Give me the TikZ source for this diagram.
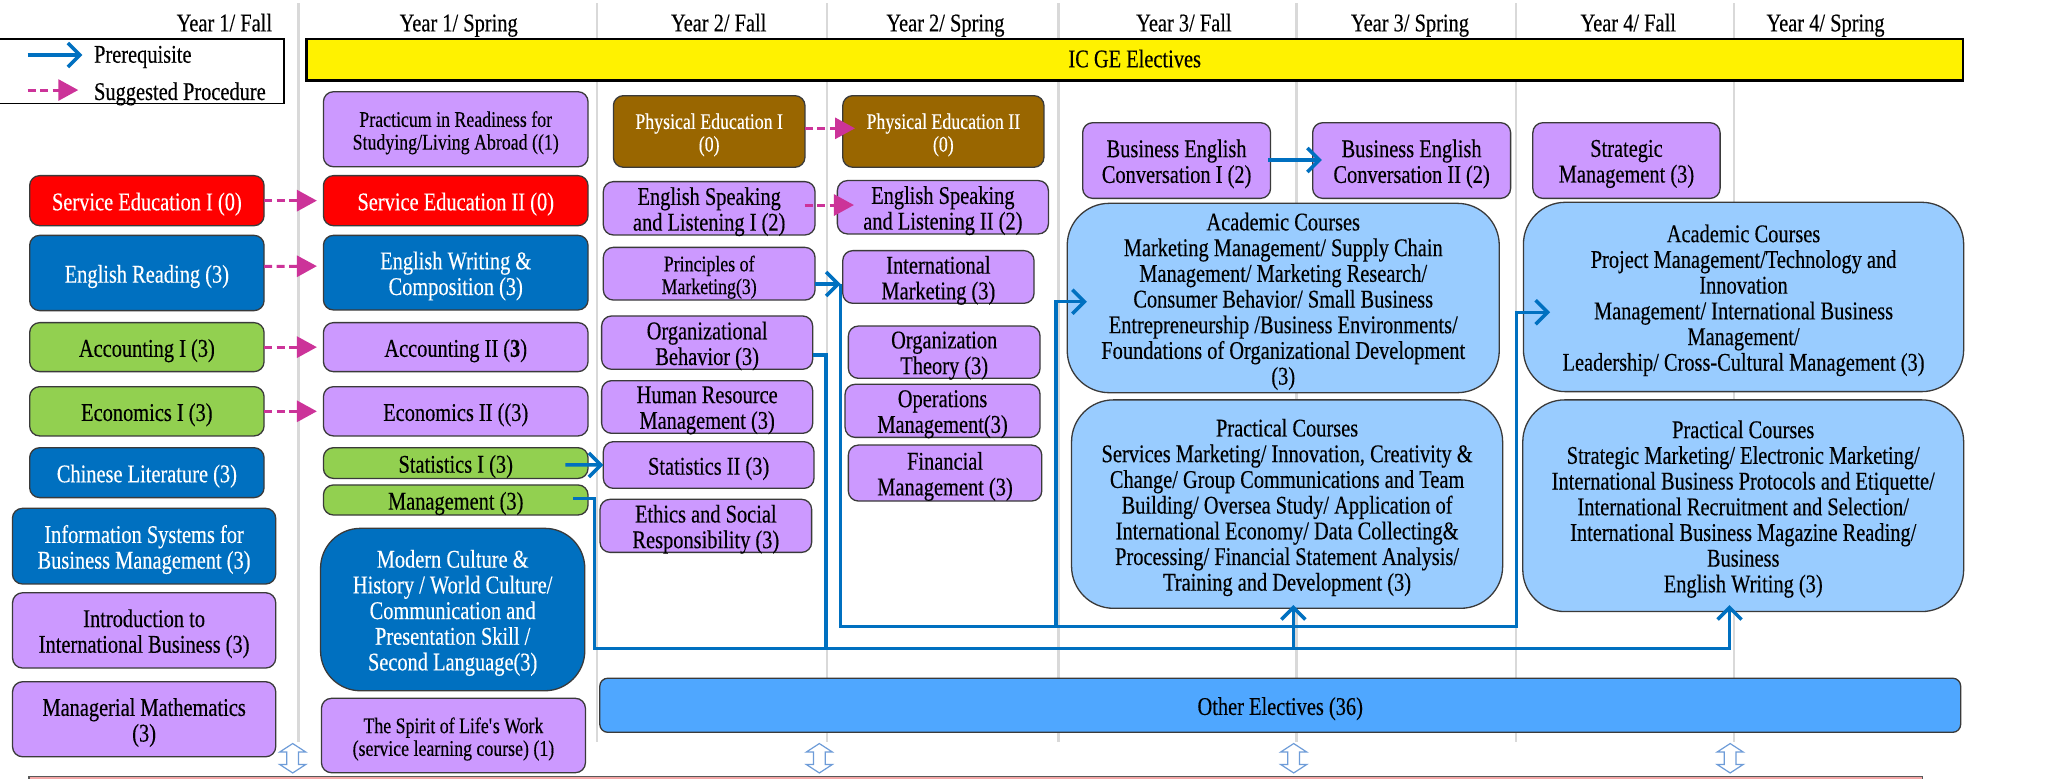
\documentclass[tikz,border=0pt]{standalone}
\usepackage{fontspec}
\setmainfont{Liberation Serif}[FakeStretch=0.8,FakeBold=0.3]
\usetikzlibrary{arrows.meta,calc}
\definecolor{cred}{HTML}{FF0000}
\definecolor{cblue}{HTML}{0070C0}
\definecolor{cgreen}{HTML}{92D050}
\definecolor{cpurple}{HTML}{CC99FF}
\definecolor{cbrown}{HTML}{996600}
\definecolor{clight}{HTML}{99CCFF}
\definecolor{cother}{HTML}{4FA7FF}
\definecolor{cline}{HTML}{0070C0}
\definecolor{cmag}{HTML}{CC3399}
\definecolor{cgrid}{HTML}{D9D9D9}
\definecolor{cdbl}{HTML}{6E9CD8}
\definecolor{cborder}{HTML}{3A3A3A}
\definecolor{cbotfill}{HTML}{F4A6A6}
\newcommand{\mkbox}[7]{%
  \pgfmathsetmacro{\mkw}{(#4-#2)*1.3068}%
  \pgfmathsetmacro{\mkh}{(#5-#3)*1.3068}%
  \pgfmathsetmacro{\mkx}{(#2+#4)/2}%
  \pgfmathsetmacro{\mky}{(#3+#5)/2}%
  \node[#6, minimum width=\mkw pt, minimum height=\mkh pt] (#1) at (\mkx,\mky) {};%
  \node[#6, draw=none, fill=none, yshift=-4.5pt] (#1-t) at (\mkx,\mky) {#7};%
}
\begin{document}
\begin{tikzpicture}[x=1.3068pt,y=-1.3068pt,
  every node/.style={inner sep=0pt, outer sep=0pt},
  course/.style={draw=cborder, line width=1.3pt, rounded corners=10pt, align=center,
    font=\fontsize{25.5}{25.7}\selectfont, execute at begin node=\strut, execute at end node=\strut},
  smalltext/.style={font=\fontsize{22.3}{22.7}\selectfont},
  bigbox/.style={course, rounded corners=42pt, fill=clight},
  pur/.style={course, fill=cpurple},
  grn/.style={course, fill=cgreen},
  blu/.style={course, fill=cblue, text=white},
  rd/.style={course, fill=cred, text=white},
  brn/.style={course, fill=cbrown, text=white},
  colline/.style={draw=cgrid, line width=2.6pt},
  prq/.style={draw=cline, line width=3.5pt, -{Straight Barb[length=12pt,width=24pt]}},
  prqline/.style={draw=cline, line width=3.5pt},
  sgp/.style={draw=cmag, line width=3pt, dash pattern=on 8pt off 4.5pt, -{Triangle[length=20pt,width=21pt]}},
  dblarr/.style={draw=cdbl, fill=white, line width=1.2pt},
  yr/.style={font=\fontsize{25.5}{26}\selectfont}
]
\useasboundingbox (0,0) rectangle (1568,595.4);
\fill[white] (0,0) rectangle (1568,595.4);

% column lines
\foreach \gx in {228.5,457,633,810,992,1160,1327}
  \draw[colline] (\gx,2.5) -- (\gx,568);

% headers
\node[yr, anchor=base] (h1) at (171.7,24) {Year 1/ Fall};
\node[yr, anchor=base] (h2) at (351,24) {Year 1/ Spring};
\node[yr, anchor=base] (h3) at (550,24) {Year 2/ Fall};
\node[yr, anchor=base] (h4) at (723.5,24) {Year 2/ Spring};
\node[yr, anchor=base] (h5) at (906,24) {Year 3/ Fall};
\node[yr, anchor=base] (h6) at (1079,24) {Year 3/ Spring};
\node[yr, anchor=base] (h7) at (1246,24) {Year 4/ Fall};
\node[yr, anchor=base] (h8) at (1397,24) {Year 4/ Spring};

% legend
\node[draw=black, line width=1.2pt, minimum width=285.2pt, minimum height=64.4pt] (legend) at (108.15,54.45) {};
\node[yr, anchor=base west] (lt1) at (72,48) {Prerequisite};
\node[yr, anchor=base west] (lt2) at (72,76.5) {Suggested Procedure};
\coordinate (lp1) at (21.2,42.1); \coordinate (lp2) at (63,42.1);
\coordinate (ls1) at (21.2,68.9); \coordinate (ls2) at (59.9,68.9);

% IC GE bar
\node[draw=black, line width=2.5pt, fill=yellow, minimum width=1656.6pt, minimum height=41.2pt] (icge) at (868.35,45.75) {};
\node[yr, anchor=base] (icget) at (868.35,51.5) {IC GE Electives};

% column 1
\mkbox{se1}{22.7}{134.4}{202.1}{172.7}{rd}{Service Education I (0)}
\mkbox{er}{22.7}{180.1}{202.1}{237.7}{blu}{English Reading (3)}
\mkbox{ac1}{22.7}{246.9}{202.1}{284.4}{grn}{Accounting I (3)}
\mkbox{ec1}{22.7}{295.9}{202.1}{333.6}{grn}{Economics I (3)}
\mkbox{cl}{22.7}{342.6}{202.1}{380.8}{blu}{Chinese Literature (3)}
\mkbox{is}{9.5}{389}{211}{446.9}{blu}{Information Systems for\\Business Management (3)}
\mkbox{iib}{9.6}{453.6}{211}{511.2}{pur}{Introduction to\\International Business (3)}
\mkbox{mm}{9.6}{521.7}{211}{579.1}{pur}{Managerial Mathematics\\(3)}

% column 2
\mkbox{prac}{247.5}{70.2}{450}{127.6}{pur, smalltext}{Practicum in Readiness for\\Studying/Living Abroad ((1)}
\mkbox{se2}{247.5}{134.4}{450}{172.7}{rd}{Service Education II (0)}
\mkbox{ew}{247.5}{180.1}{450}{237.2}{blu}{English Writing \&\\Composition (3)}
\mkbox{ac2}{247.5}{246.9}{450}{284.4}{pur}{Accounting II (\textbf{3})}
\mkbox{ec2}{247.5}{295.9}{450}{333.6}{pur}{Economics II ((3)}
\mkbox{st1}{247.5}{342.6}{450}{366.1}{grn}{Statistics I (3)}
\mkbox{mg}{247.5}{371.1}{450}{394.1}{grn}{Management (3)}
\mkbox{mc}{245.3}{404.3}{447.5}{528.6}{blu, rounded corners=40pt}{Modern Culture \&\\History / World Culture/\\Communication and\\Presentation Skill /\\Second Language(3)}
\mkbox{sp}{246}{534.4}{448}{591.3}{pur, smalltext}{The Spirit of Life\textquotesingle s Work\\(service learning course) (1)}

% column 3
\mkbox{pe1}{469.4}{73.2}{616}{128}{brn, smalltext}{Physical Education I\\(0)}
\mkbox{es1}{461.7}{139}{623.7}{179.8}{pur}{English Speaking\\and Listening I (2)}
\mkbox{pom}{461.7}{189.3}{623.7}{229.6}{pur, smalltext}{Principles of\\Marketing(3)}
\mkbox{ob}{460.4}{241.8}{621.9}{282.6}{pur}{Organizational\\Behavior (3)}
\mkbox{hrm}{460.4}{291.3}{621.9}{331.6}{pur}{Human Resource\\Management (3)}
\mkbox{st2}{461.7}{338}{622.9}{373.7}{pur}{Statistics II (3)}
\mkbox{eth}{459.2}{382.1}{621.1}{422.7}{pur}{Ethics and Social\\Responsibility (3)}

% column 4
\mkbox{pe2}{644.9}{73.2}{798.9}{128}{brn, smalltext}{Physical Education II\\(0)}
\mkbox{es2}{640.8}{138.2}{802.3}{179}{pur}{English Speaking\\and Listening II (2)}
\mkbox{im}{644.9}{191.8}{791.3}{232.1}{pur}{International\\Marketing (3)}
\mkbox{ot}{649.2}{249.5}{795.9}{289.5}{pur}{Organization\\Theory (3)}
\mkbox{om}{646.7}{294.1}{795.9}{334.7}{pur}{Operations\\Management(3)}
\mkbox{fm}{649.2}{340.6}{797.2}{383.4}{pur}{Financial\\Management (3)}

% year 3
\mkbox{bec1}{828.5}{93.9}{972.3}{151.8}{pur}{Business English\\Conversation I (2)}
\mkbox{bec2}{1004.5}{93.9}{1156}{151.8}{pur}{Business English\\Conversation II (2)}
\mkbox{y3a}{816.7}{155.6}{1147.3}{300.5}{bigbox}{Academic Courses\\Marketing Management/ Supply Chain\\Management/ Marketing Research/\\Consumer Behavior/ Small Business\\Entrepreneurship /Business Environments/\\Foundations of Organizational Development\\(3)}
\mkbox{y3p}{820}{306}{1149.9}{465.5}{bigbox}{Practical Courses\\Services Marketing/ Innovation, Creativity \&\\Change/ Group Communications and Team\\Building/ Oversea Study/ Application of\\International Economy/ Data Collecting\&\\Processing/ Financial Statement Analysis/\\Training and Development (3)}

% year 4
\mkbox{sm}{1173}{93.9}{1316.3}{151.8}{pur}{Strategic\\Management (3)}
\mkbox{y4a}{1165.8}{154.8}{1502.7}{299.7}{bigbox}{Academic Courses\\Project Management/Technology and\\Innovation\\Management/ International Business\\Management/\\Leadership/ Cross-Cultural Management (3)}
\mkbox{y4p}{1165.3}{306}{1502.7}{468}{bigbox}{Practical Courses\\Strategic Marketing/ Electronic Marketing/\\International Business Protocols and Etiquette/\\International Recruitment and Selection/\\International Business Magazine Reading/\\Business\\English Writing (3)}

% other electives
\mkbox{oe}{459}{519}{1500.4}{560.4}{course, rounded corners=8pt, fill=cother}{Other Electives (36)}

% bottom bar (cut off)
\draw[draw=gray!70!black, fill=cbotfill, line width=1.2pt] (22.2,594) rectangle (1471,620);

% double arrows
\foreach \cx in {224,627,990,1324}
  \draw[dblarr] (\cx,569) -- ++(10,6.5) -- ++(-5.5,0) -- ++(0,9.5) -- ++(5.5,0) -- ++(-10,6.5) -- ++(-10,-6.5) -- ++(5.5,0) -- ++(0,-9.5) -- ++(-5.5,0) -- cycle;

% legend arrows
\draw[prq] (lp1) -- (lp2);
\draw[sgp] (ls1) -- (ls2);

% suggested procedure
\draw[sgp] (se1.east) -- ($(se2.west)+(-5,0)$);
\draw[sgp] ($(er.east)+(0,-5)$) -- ($(ew.west)+(-5,-5)$);
\draw[sgp] (ac1.east) -- ($(ac2.west)+(-5,0)$);
\draw[sgp] (ec1.east) -- ($(ec2.west)+(-5,0)$);
\draw[sgp] ($(pe1.east)+(0,-2.4)$) -- ($(pe2.west)+(9.4,-2.4)$);
\draw[sgp] ($(es1.east)+(-8,-2.5)$) -- ($(es2.west)+(12.7,-1.7)$);

% prerequisites
\draw[prq] ($(st1.east)+(-17.3,1.4)$) -- (st2.west);
\draw[prq] ($(bec1.east)+(-1.8,-0.4)$) -- ($(bec2.west)+(7,-0.4)$);

\coordinate (j1) at (643.3,217.3);
\coordinate (j2) at (643.3,479.4);
\coordinate (j3) at (1160.6,479.4);
\coordinate (j4) at (1160.6,239);
\draw[prq] (pom.east |- j1) -- (j1);
\draw[prq] (j1) -- (j2) -- (j3) -- (j4) -- ($(y4a.west |- j4)+(20.4,0)$);
\coordinate (k1) at (808.1,479.4);
\coordinate (k2) at (808.1,230.9);
\draw[prq] (k1) -- (k2) -- ($(y3a.west |- k2)+(15,0)$);

\coordinate (m1) at (632.1,271.7);
\coordinate (m2) at (632.1,496.2);
\draw[prqline] (ob.east |- m1) -- (m1) -- (m2);

\coordinate (n1) at (455,381.6);
\coordinate (n2) at (455,496.2);
\coordinate (n3) at (1323.5,496.2);
\coordinate (n4) at (989.7,496.2);
\draw[prq] ($(mg.east)+(-11.2,-1)$) -- (n1) -- (n2) -- (n3) -- ($(y4p.south -| n3)+(0,-5)$);
\draw[prq] (n4) -- ($(y3p.south -| n4)+(0,-2.5)$);
\end{tikzpicture}
\end{document}
